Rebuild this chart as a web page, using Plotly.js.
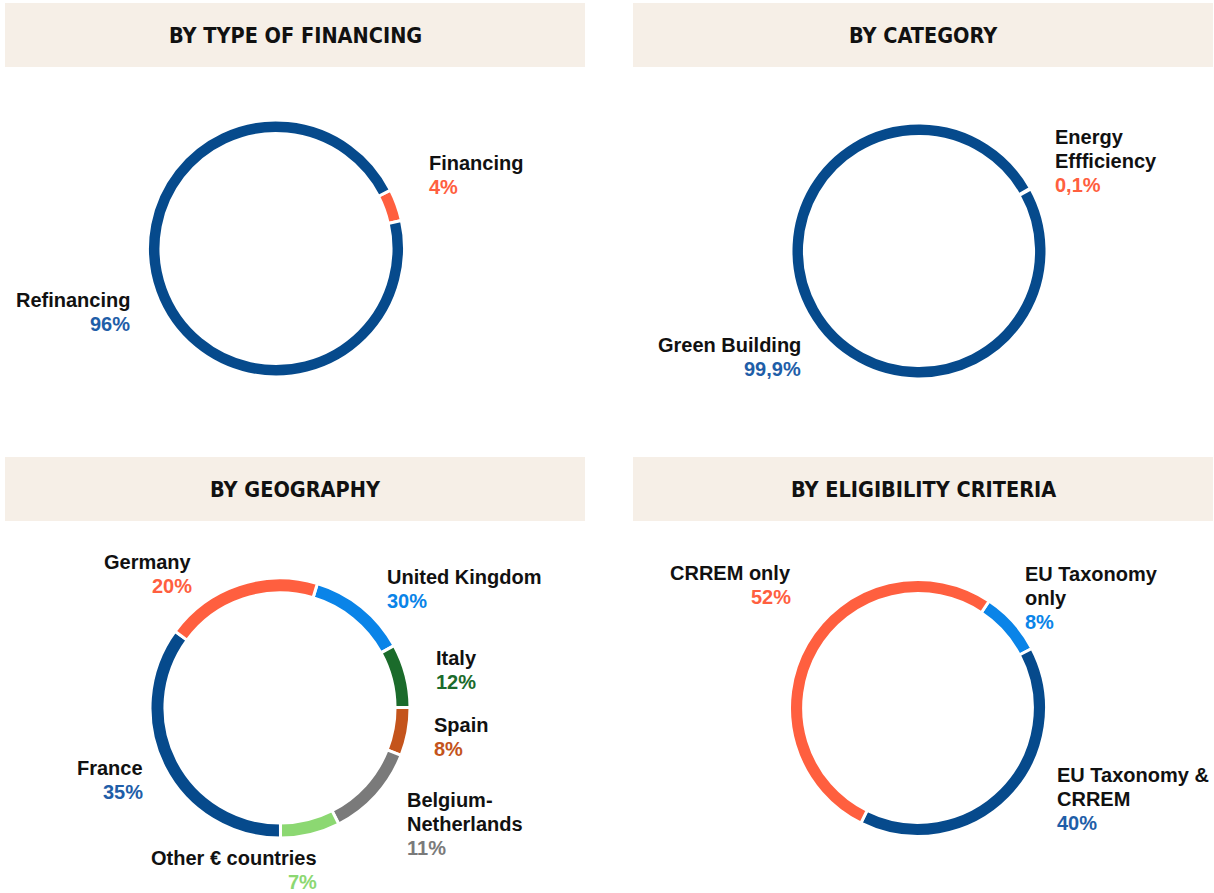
<!DOCTYPE html>
<html>
<head>
<meta charset="utf-8">
<script src="https://cdn.plot.ly/plotly-3.0.1.min.js"></script>
<style>
html,body{margin:0;padding:0;background:#fff;}
#chart{width:1214px;height:893px;}
</style>
</head>
<body>
<div id="chart"></div>
<script>
// ---- Data ----
const panelTitles = ['BY TYPE OF FINANCING', 'BY CATEGORY', 'BY GEOGRAPHY', 'BY ELIGIBILITY CRITERIA'];

const typeLabels = ['Financing', 'Refinancing'];
const typeValues = [4, 96];
const typeText = ['4%', '96%'];

const catLabels = ['Energy Effficiency', 'Green Building'];
const catValues = [0.1, 99.9];
const catText = ['0,1%', '99,9%'];

const geoLabels = ['United Kingdom', 'Italy', 'Spain', 'Belgium-Netherlands', 'Other € countries', 'France', 'Germany'];
const geoValues = [12.4, 7.9, 6.0, 11.6, 7.4, 35.1, 19.6];
const geoText = ['30%', '12%', '8%', '11%', '7%', '35%', '20%'];

const eligLabels = ['EU Taxonomy only', 'EU Taxonomy & CRREM', 'CRREM only'];
const eligValues = [8, 40, 52];
const eligText = ['8%', '40%', '52%'];

// ---- Styles ----
const W = 1214, H = 893;
const BLUE = '#064a8c', ORANGE = '#ff5f3f', LBLUE = '#0a84e8', GREEN = '#1b6b2b',
      BROWN = '#c4541c', GRAY = '#7a7a7a', LGREEN = '#8cd872';
const typeColors = [ORANGE, BLUE];
const catColors = [ORANGE, BLUE];
const geoColors = [LBLUE, GREEN, BROWN, GRAY, LGREEN, BLUE, ORANGE];
const eligColors = [LBLUE, BLUE, ORANGE];

function dom(cx, cy, r) {
  return {x: [(cx - r) / W, (cx + r) / W], y: [1 - (cy + r) / H, 1 - (cy - r) / H]};
}
function pie(labels, values, colors, domain, hole, rotation) {
  return {
    type: 'pie', labels: labels, values: values, sort: false, direction: 'clockwise',
    rotation: rotation, hole: hole, domain: domain, textinfo: 'none', hoverinfo: 'label+percent',
    marker: {colors: colors, line: {color: '#ffffff', width: 3}}, showlegend: false
  };
}

const data = [
  pie(typeLabels, typeValues, typeColors, dom(276, 248.5, 128.5), 0.895, 63),
  pie(catLabels, catValues, catColors, dom(919, 251, 128), 0.895, 60.6),
  pie(geoLabels, geoValues, geoColors, dom(280, 708, 130), 0.885, 16.7),
  pie(eligLabels, eligValues, eligColors, dom(918, 708, 128.5), 0.89, 33.6)
];

// ---- Header boxes & titles ----
const shapes = [];
const annotations = [];
const boxes = [[5, 3, 585, 67], [633, 3, 1213, 67], [5, 457, 585, 521], [633, 457, 1213, 521]];
boxes.forEach((b, i) => {
  shapes.push({type: 'rect', xref: 'paper', yref: 'paper', x0: b[0] / W, x1: b[2] / W,
    y0: 1 - b[3] / H, y1: 1 - b[1] / H, fillcolor: '#f6efe7', line: {width: 0}, layer: 'below'});
  annotations.push({xref: 'paper', yref: 'paper', x: (b[0] + b[2]) / 2 / W, y: 1 - (b[1] + b[3]) / 2 / H,
    xanchor: 'center', yanchor: 'middle', showarrow: false, text: '<b>' + panelTitles[i] + '</b>',
    font: {family: 'Liberation Sans Narrow, DejaVu Sans Condensed, Arial Narrow, sans-serif', size: 21.5, color: '#111111'}});
});

// ---- Slice labels ----
const LF = 'Liberation Sans, Arial, sans-serif';
function label(lines, pct, color, x, y, align) {
  const all = lines.concat([pct]);
  all.forEach((t, k) => {
    annotations.push({xref: 'paper', yref: 'paper', x: x / W, y: 1 - (y + k * 24) / H,
      xanchor: align, yanchor: 'middle', showarrow: false, text: '<b>' + t + '</b>',
      font: {family: LF, size: 20, color: k === all.length - 1 ? color : '#111111'}});
  });
}
label([typeLabels[0]], typeText[0], ORANGE, 427, 163, 'left');
label([typeLabels[1]], typeText[1], '#1f5ea8', 132, 300, 'right');
label(['Energy', 'Effficiency'], catText[0], ORANGE, 1053, 137, 'left');
label([catLabels[1]], catText[1], '#1f5ea8', 803, 345, 'right');

label([geoLabels[0]], geoText[0], LBLUE, 385, 577, 'left');
label([geoLabels[1]], geoText[1], GREEN, 434, 658, 'left');
label([geoLabels[2]], geoText[2], BROWN, 432, 725, 'left');
label(['Belgium-', 'Netherlands'], geoText[3], GRAY, 405, 800, 'left');
label([geoLabels[4]], geoText[4], LGREEN, 319, 858, 'right');
label([geoLabels[5]], geoText[5], '#1f5ea8', 145, 768, 'right');
label([geoLabels[6]], geoText[6], ORANGE, 194, 562, 'right');

label(['EU Taxonomy', 'only'], eligText[0], LBLUE, 1023, 574, 'left');
label(['EU Taxonomy &', 'CRREM'], eligText[1], '#1f5ea8', 1055, 775, 'left');
label([eligLabels[2]], eligText[2], ORANGE, 793, 573, 'right');

const layout = {
  width: W, height: H, margin: {l: 0, r: 0, t: 0, b: 0},
  paper_bgcolor: '#ffffff', plot_bgcolor: '#ffffff',
  shapes: shapes, annotations: annotations, showlegend: false
};
Plotly.newPlot('chart', data, layout, {displayModeBar: false, staticPlot: true});
</script>
</body>
</html>
